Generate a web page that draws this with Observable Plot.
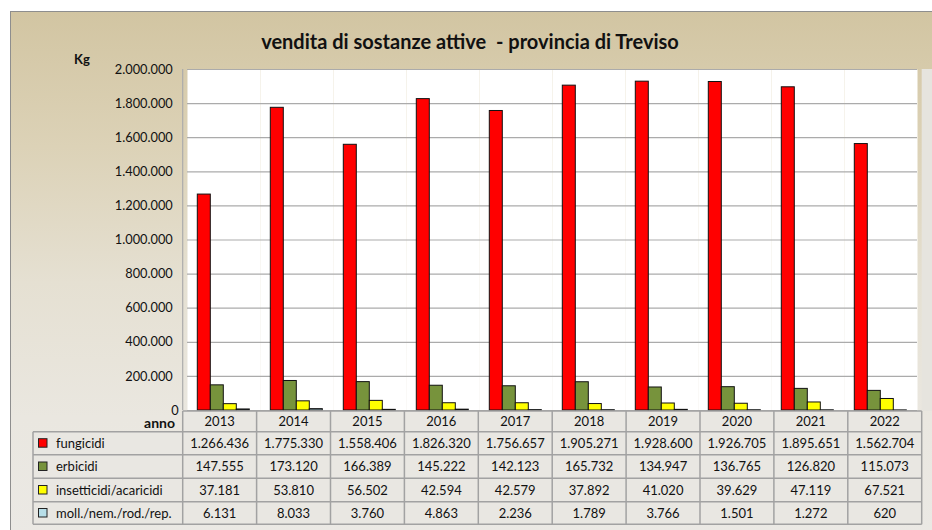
<!DOCTYPE html>
<html><head><meta charset="utf-8">
<script src="https://cdn.jsdelivr.net/npm/d3@7"></script>
<script src="https://cdn.jsdelivr.net/npm/@observablehq/plot@0.6"></script>
<style>
html,body{margin:0;padding:0;background:#fff;}
#wrap{position:relative;width:932px;height:530px;overflow:hidden;font-family:Lato,sans-serif;}
#frame{position:absolute;left:10px;top:11px;width:940px;height:540px;border:1px solid #8e8e8e;
  background:linear-gradient(to bottom,#d2c5a2 0%,#dcd2b7 25%,#e5e0d2 50%,#eae7e0 75%,#ebe9e5 100%);}
#chart{position:absolute;left:0;top:0;}
</style></head><body>
<div id="wrap"><div id="frame"></div><div id="chart"></div></div>
<script>
const years = ["2013","2014","2015","2016","2017","2018","2019","2020","2021","2022"];
const seriesNames = ["fungicidi","erbicidi","insetticidi/acaricidi","moll./nem./rod./rep."];
const fungicidi = [1266436,1775330,1558406,1826320,1756657,1905271,1928600,1926705,1895651,1562704];
const erbicidi = [147555,173120,166389,145222,142123,165732,134947,136765,126820,115073];
const insetticidi = [37181,53810,56502,42594,42579,37892,41020,39629,47119,67521];
const molluschicidi = [6131,8033,3760,4863,2236,1789,3766,1501,1272,620];
const yTicks = [0,200000,400000,600000,800000,1000000,1200000,1400000,1600000,1800000,2000000];
const seriesColors = ["#ff0000","#77933c","#ffff00","#b7dee8"];
const titleText = "vendita di sostanze attive  - provincia di Treviso";

const seriesValues = [fungicidi, erbicidi, insetticidi, molluschicidi];
const data = [];
years.forEach((y, i) => seriesNames.forEach((s, j) => data.push({year: y, series: s, value: seriesValues[j][i]})));

const loc = d3.formatLocale({decimal: ",", thousands: ".", grouping: [3], currency: ["", "€"]});
const fmt = loc.format(",d");

const plot = Plot.plot({
  width: 932, height: 530,
  marginLeft: 182.7, marginRight: 10.3, marginTop: 69, marginBottom: 120,
  style: {background: "transparent", fontFamily: "Lato, sans-serif", fontSize: "12.8px", color: "#111", overflow: "visible"},
  facet: {data: data, x: "year"},
  fx: {domain: years, padding: 0, axis: null, label: null},
  x: {domain: seriesNames, paddingInner: 0, paddingOuter: 0.7, axis: null},
  y: {domain: [0, 2000000], ticks: yTicks, tickFormat: fmt, tickSize: 0, tickPadding: 14.7, label: null},
  color: {domain: seriesNames, range: seriesColors},
  marks: [
    Plot.frame({fill: "white", stroke: null}),
    Plot.ruleY(yTicks, {stroke: "#ababab", strokeWidth: 1.2}),
    Plot.barY(data, {x: "series", y: "value", fill: "series", stroke: "#111", strokeWidth: 1})
  ]
});
document.getElementById("chart").appendChild(plot);

const svg = d3.select(plot);
// the "0" tick label sits a little further right in the reference
svg.selectAll("text").filter(function() { return this.textContent === "0" && !this.closest("g.tbl"); })
  .attr("dx", 6);

const fxs = plot.scale("fx");
const band = d3.scaleBand().domain(fxs.domain).range(fxs.range).padding(0);
const x0 = band.range()[0], x1 = band.range()[1];
const yTop = 69, yZero = 410;

// right grey wall strip and left edge
svg.append("rect").attr("x", x1).attr("y", yTop).attr("width", 932 - x1).attr("height", yZero - yTop + 1).attr("fill", "#e6e4de");
svg.append("line").attr("x1", x0).attr("x2", x0).attr("y1", yTop).attr("y2", yZero).attr("stroke", "#ababab").attr("stroke-width", 1.2);

// title, Kg, anno
svg.append("text").attr("x", 470).attr("y", 48.5).attr("text-anchor", "middle")
  .attr("font-family", "Lato, sans-serif").attr("font-weight", "bold").attr("font-size", 20).attr("fill", "#111").text(titleText);
svg.append("text").attr("x", 74).attr("y", 64).attr("text-anchor", "start").attr("font-family", "Lato, sans-serif").attr("font-weight", "bold").attr("font-size", 13).attr("fill", "#111").text("Kg");
svg.append("text").attr("x", 175).attr("y", 427.7).attr("text-anchor", "end").attr("font-family", "Lato, sans-serif").attr("font-weight", "bold").attr("font-size", 14).attr("fill", "#111").text("anno");

// table
const rowEdges = [411, 431.7, 454.7, 478.3, 501.7, 524.3];
const legX0 = 33;
const tbl = svg.append("g").attr("class", "tbl").attr("font-family", "Lato, sans-serif").attr("font-size", 13).attr("fill", "#111");
// backgrounds
tbl.append("rect").attr("x", x0).attr("y", rowEdges[0]).attr("width", x1 - x0).attr("height", rowEdges[5] - rowEdges[0]).attr("fill", "#e9e7e2");
tbl.append("rect").attr("x", legX0).attr("y", rowEdges[1]).attr("width", x0 - legX0).attr("height", rowEdges[5] - rowEdges[1]).attr("fill", "#e9e7e2");
const bc = "#a2a2a2";
// horizontal lines
tbl.append("line").attr("x1", x0).attr("x2", x1).attr("y1", rowEdges[0]).attr("y2", rowEdges[0]).attr("stroke", bc).attr("stroke-width", 1.5);
for (let r = 1; r < rowEdges.length; r++) {
  tbl.append("line").attr("x1", legX0).attr("x2", x1).attr("y1", rowEdges[r]).attr("y2", rowEdges[r]).attr("stroke", bc).attr("stroke-width", 1.5);
}
// vertical lines
tbl.append("line").attr("x1", legX0).attr("x2", legX0).attr("y1", rowEdges[1]).attr("y2", rowEdges[5]).attr("stroke", bc).attr("stroke-width", 1.5);
years.forEach(y => {
  const xx = band(y);
  tbl.append("line").attr("x1", xx).attr("x2", xx).attr("y1", rowEdges[0]).attr("y2", rowEdges[5]).attr("stroke", bc).attr("stroke-width", 1.5);
});
tbl.append("line").attr("x1", x1).attr("x2", x1).attr("y1", rowEdges[0]).attr("y2", rowEdges[5]).attr("stroke", bc).attr("stroke-width", 1.5);

// header years
years.forEach(y => {
  tbl.append("text").attr("x", band(y) + band.bandwidth() / 2).attr("y", (rowEdges[0] + rowEdges[1]) / 2).attr("dy", "0.35em").attr("text-anchor", "middle").text(y);
});
// rows
seriesNames.forEach((s, j) => {
  const cy = (rowEdges[j + 1] + rowEdges[j + 2]) / 2;
  tbl.append("rect").attr("x", 38.5).attr("y", cy - 4.5).attr("width", 8.5).attr("height", 8.5).attr("fill", seriesColors[j]).attr("stroke", "#222").attr("stroke-width", 1);
  tbl.append("text").attr("x", 56).attr("y", cy).attr("dy", "0.35em").attr("text-anchor", "start").text(s);
  years.forEach((y, i) => {
    tbl.append("text").attr("x", band(y) + band.bandwidth() / 2).attr("y", cy).attr("dy", "0.35em").attr("text-anchor", "middle").text(fmt(seriesValues[j][i]));
  });
});
</script>
</body></html>
